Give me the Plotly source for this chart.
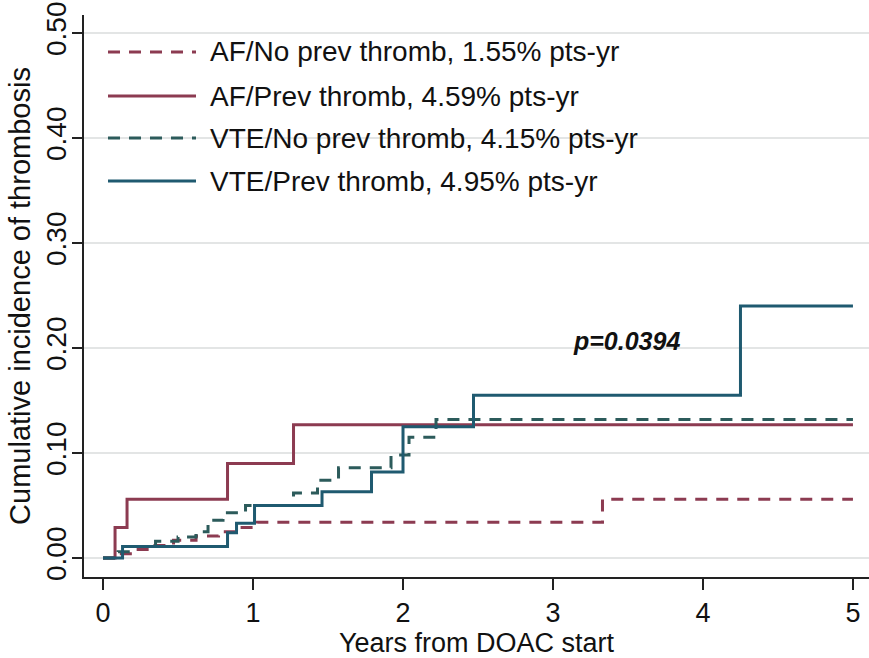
import plotly.graph_objects as go

# Cumulative incidence of thrombosis by indication and prior thrombosis
series_names = [
    "AF/No prev thromb, 1.55% pts-yr",
    "AF/Prev thromb, 4.59% pts-yr",
    "VTE/No prev thromb, 4.15% pts-yr",
    "VTE/Prev thromb, 4.95% pts-yr",
]

af_noprev_t = [0, 0.08, 0.2, 0.33, 0.47, 0.62, 0.77, 0.88, 1.03, 3.33, 5.0]
af_noprev_v = [0, 0.004, 0.008, 0.012, 0.017, 0.021, 0.025, 0.029, 0.034, 0.056, 0.056]

af_prev_t = [0, 0.08, 0.16, 0.83, 1.27, 5.0]
af_prev_v = [0, 0.029, 0.056, 0.090, 0.127, 0.127]

vte_noprev_t = [0, 0.1, 0.2, 0.35, 0.5, 0.62, 0.7, 0.8, 0.95, 1.27, 1.43, 1.57, 1.92, 2.04, 2.22, 5.0]
vte_noprev_v = [0, 0.006, 0.011, 0.016, 0.020, 0.025, 0.036, 0.043, 0.050, 0.062, 0.074, 0.086, 0.098, 0.115, 0.132, 0.132]

vte_prev_t = [0, 0.13, 0.83, 0.89, 1.01, 1.46, 1.79, 2.0, 2.47, 4.25, 5.0]
vte_prev_v = [0, 0.011, 0.024, 0.033, 0.050, 0.063, 0.082, 0.125, 0.155, 0.240, 0.240]

x_ticks = [0, 1, 2, 3, 4, 5]
y_ticks = [0.0, 0.1, 0.2, 0.3, 0.4, 0.5]
p_label = "p=0.0394"

MAROON = "#8c3b51"
TEAL_DK = "#2c5b5b"
TEAL = "#1f5a70"
DASH = "12px,9px"
FONT = "Arial, Liberation Sans, sans-serif"

styles = [
    dict(color=MAROON, dash=DASH),
    dict(color=MAROON, dash="solid"),
    dict(color=TEAL_DK, dash=DASH),
    dict(color=TEAL, dash="solid"),
]
data = [
    (af_noprev_t, af_noprev_v),
    (af_prev_t, af_prev_v),
    (vte_noprev_t, vte_noprev_v),
    (vte_prev_t, vte_prev_v),
]

W, H = 869, 658
L, R, T, B = 84, 0, 15, 81

fig = go.Figure()
for name, (t, v), st in zip(series_names, data, styles):
    fig.add_trace(go.Scatter(
        x=t, y=v, mode="lines", name=name, line_shape="hv",
        line=dict(color=st["color"], dash=st["dash"], width=3),
        showlegend=False,
    ))

# Legend drawn as line samples and labels in pixel positions
def px_x(px):
    return (px - L) / (W - L - R)

def px_y(py):
    return (H - B - py) / (H - T - B)

row_y = [52, 96, 138, 181]
for name, st, ry in zip(series_names, styles, row_y):
    fig.add_shape(type="line", xref="paper", yref="paper",
                  x0=px_x(108), x1=px_x(196), y0=px_y(ry), y1=px_y(ry),
                  line=dict(color=st["color"], dash=st["dash"], width=3))
    fig.add_annotation(xref="paper", yref="paper", x=px_x(208), y=px_y(ry),
                       text=name, showarrow=False, xanchor="left", yanchor="middle",
                       font=dict(size=28, color="#111111", family=FONT))

fig.add_annotation(x=3.49, y=0.207, text="<b><i>%s</i></b>" % p_label, showarrow=False,
                   font=dict(size=25, color="#111111", family=FONT))

fig.update_layout(
    width=W, height=H,
    margin=dict(l=L, r=R, t=T, b=B),
    paper_bgcolor="white", plot_bgcolor="white",
    font=dict(family=FONT, size=26, color="#111111"),
)
fig.update_xaxes(
    range=[-0.127, 5.107], tickvals=x_ticks, ticktext=[str(v) for v in x_ticks],
    showgrid=False, zeroline=False, showline=True, linecolor="#222222", linewidth=2,
    ticks="outside", ticklen=11, tickwidth=2, tickcolor="#222222",
    tickfont=dict(size=27),
    title=dict(text="Years from DOAC start", font=dict(size=27), standoff=0),
)
fig.update_yaxes(
    range=[-0.0181, 0.5171], tickvals=y_ticks, ticktext=["%.2f" % v for v in y_ticks],
    tickangle=-90, ticklabelstandoff=-5,
    showgrid=True, gridcolor="#e3e5e5", gridwidth=2, zeroline=False,
    showline=True, linecolor="#222222", linewidth=2,
    ticks="outside", ticklen=10, tickwidth=2, tickcolor="#222222",
    tickfont=dict(size=28),
    title=dict(text="Cumulative incidence of thrombosis", font=dict(size=29), standoff=2),
)

fig.write_html("out.html")
